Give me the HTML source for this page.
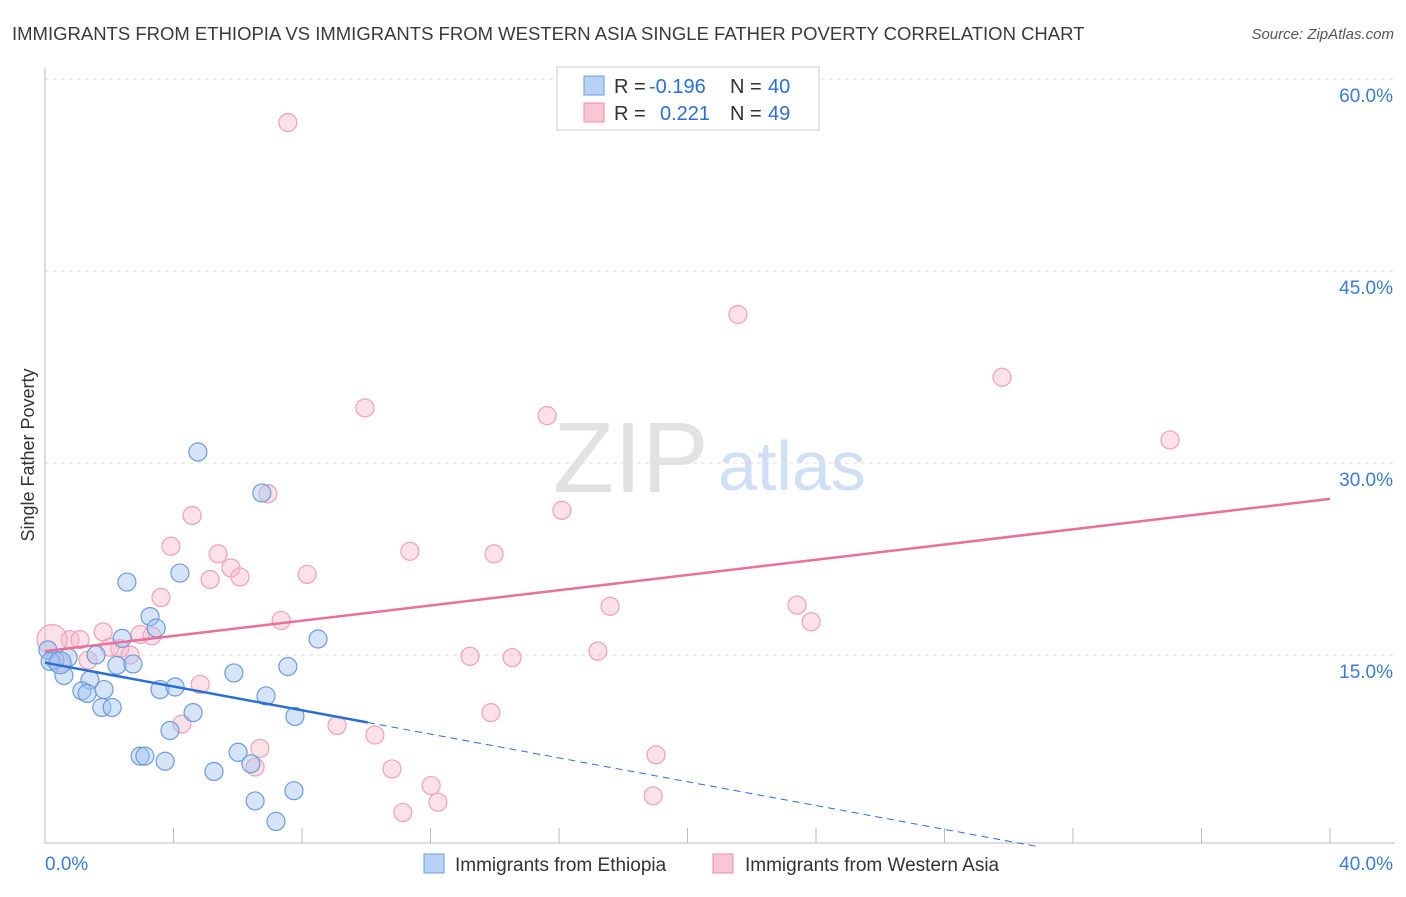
<!DOCTYPE html>
<html><head><meta charset="utf-8"><style>
body{margin:0;background:#fff;font-family:"Liberation Sans",sans-serif;}
svg text{font-family:"Liberation Sans",sans-serif;}
</style></head><body>
<svg id="chart" width="1406" height="892" xmlns="http://www.w3.org/2000/svg">
<text x="12" y="40" font-size="18.5" fill="#3a3a3a">IMMIGRANTS FROM ETHIOPIA VS IMMIGRANTS FROM WESTERN ASIA SINGLE FATHER POVERTY CORRELATION CHART</text>
<text x="1394" y="39" font-size="15" fill="#555" font-style="italic" text-anchor="end">Source: ZipAtlas.com</text>
<text x="553" y="492" font-size="100" fill="#e2e2e2" font-family="Liberation Serif">ZIP</text>
<text x="718" y="490" font-size="70" fill="#cfe0f5">atlas</text>
<text transform="translate(34,455) rotate(-90)" font-size="18" fill="#333" text-anchor="middle">Single Father Poverty</text>
<g id="grid"></g><g id="axes"></g><g id="pts"></g><g id="lines"></g>
<g>
<rect x="557" y="67" width="262" height="63" fill="#fff" stroke="#ccc"/>
<rect x="584" y="76" width="20" height="19" fill="#b8d2f4" stroke="#6a9be0"/>
<rect x="584" y="103" width="20" height="19" fill="#f9c6d5" stroke="#f08aaa"/>
<text x="614" y="93" font-size="20" fill="#333">R =</text>
<text x="649" y="93" font-size="20" fill="#2a6fd6">-0.196</text>
<text x="730" y="93" font-size="20" fill="#333">N =</text>
<text x="768" y="93" font-size="20" fill="#2a6fd6">40</text>
<text x="614" y="120" font-size="20" fill="#333">R =</text>
<text x="660" y="120" font-size="20" fill="#2a6fd6">0.221</text>
<text x="730" y="120" font-size="20" fill="#333">N =</text>
<text x="768" y="120" font-size="20" fill="#2a6fd6">49</text>
</g>
<g>
<rect x="424" y="854" width="20" height="19" fill="#b8d2f4" stroke="#6a9be0"/>
<text x="455" y="871" font-size="19" fill="#333">Immigrants from Ethiopia</text>
<rect x="713" y="854" width="20" height="19" fill="#f9c6d5" stroke="#f08aaa"/>
<text x="745" y="871" font-size="19" fill="#333">Immigrants from Western Asia</text>
</g>
</svg>
<script>
const yTicks=[15,30,45,60];
const yTickLabels=["15.0%","30.0%","45.0%","60.0%"];
const xEndLabels=["0.0%","40.0%"];
const ethX=[4.76,6.75,2.55,4.20,3.27,3.46,2.40,8.50,1.59,0.72,0.31,0.09,0.16,1.40,0.59,2.24,2.74,7.56,5.88,1.15,1.31,1.84,1.77,2.09,3.58,4.05,6.88,4.61,7.78,3.89,2.96,3.11,3.74,6.01,6.41,5.26,6.54,7.75,7.19,0.47];
const ethY=[30.86,27.66,20.7,21.4,18.0,17.1,16.3,16.25,15.0,14.8,14.6,15.4,14.5,13.05,13.4,14.2,14.3,14.1,13.6,12.2,12.0,12.3,10.9,10.9,12.3,12.5,11.8,10.5,10.2,9.1,7.1,7.1,6.7,7.4,6.5,5.9,3.6,4.4,2.0,14.4];
const waX=[7.56,21.57,29.79,35.02,9.96,15.63,16.09,6.94,4.58,3.92,5.39,11.36,13.98,5.79,6.07,5.14,8.16,3.61,17.59,23.41,7.35,23.85,3.33,2.96,1.81,0.78,1.09,2.33,2.65,2.02,1.34,0.22,13.23,14.54,17.21,4.83,13.88,4.26,9.09,10.27,6.69,19.02,6.54,10.80,12.02,12.23,18.93,11.14,0.47];
const waY=[56.6,41.6,36.7,31.8,34.3,33.7,26.3,27.6,25.9,23.5,22.9,23.1,22.9,21.8,21.1,20.9,21.3,19.5,18.8,18.9,17.7,17.6,16.5,16.6,16.8,16.2,16.2,15.5,15.0,15.6,14.6,16.2,14.9,14.8,15.3,12.7,10.5,9.6,9.5,8.75,7.7,7.2,6.25,6.1,4.8,3.5,4.0,2.7,14.4];
const ethTrend=[14.4,-0.465];
const waTrend=[15.3,0.2975];
const NS="http://www.w3.org/2000/svg";
const X=v=>45+v/40*1285, Y=v=>847-v/15*192;
function mk(t,a,p){const e=document.createElementNS(NS,t);for(const k in a)e.setAttribute(k,a[k]);document.getElementById(p).appendChild(e);return e;}
yTicks.forEach((t,i)=>{
 const l=mk('line',{x1:45,x2:1395,y1:Y(t),y2:Y(t),stroke:'#ddd','stroke-dasharray':'4,4'},'grid');
 
 
 const tx=mk('text',{x:1393,y:Y(t)+23,'font-size':19,fill:'#3d7bd8','text-anchor':'end'},'grid');
 tx.textContent=yTickLabels[i];
 
 
});
const ax=mk('line',{x1:45,x2:45,y1:68,y2:843,stroke:'#bbb'},'axes');


const bx=mk('line',{x1:45,x2:1395,y1:843,y2:843,stroke:'#bbb'},'axes');


for(let i=1;i<=10;i++){const t=mk('line',{x1:X(i*4),x2:X(i*4),y1:828,y2:843,stroke:'#bbb'},'axes');
 
 }
[[0,45,'start'],[40,1393,'end']].forEach((d,i)=>{const t=mk('text',{x:d[1],y:870,'font-size':19,fill:'#3d7bd8','text-anchor':d[2]},'axes');t.textContent=xEndLabels[i];
 
 });
waX.forEach((x,i)=>{const c=mk('circle',{cx:X(x),cy:Y(waY[i]),r:i==31?15:9,fill:'rgba(248,180,200,0.4)',stroke:'#f0a0b8','stroke-width':1.2},'pts');
 
 });
ethX.forEach((x,i)=>{const c=mk('circle',{cx:X(x),cy:Y(ethY[i]),r:i==39?11:9,fill:'rgba(164,196,240,0.45)',stroke:'#6a9be0','stroke-width':1.2},'pts');
 
 });
const e0=ethTrend[0],e1=ethTrend[1];const xs=10.05,xz=-e0/e1;
const l1=mk('line',{x1:X(0),y1:Y(e0),x2:X(xs),y2:Y(e0+e1*xs),stroke:'#2a6fd6','stroke-width':2.5},'lines');


const l2=mk('line',{x1:X(xs),y1:Y(e0+e1*xs),x2:X(xz),y2:Y(0),stroke:'#2a6fd6','stroke-width':1,'stroke-dasharray':'7,5'},'lines');


const l3=mk('line',{x1:X(0),y1:Y(waTrend[0]),x2:X(40),y2:Y(waTrend[0]+waTrend[1]*40),stroke:'#e8709a','stroke-width':2.5},'lines');


</script>
</body></html>
